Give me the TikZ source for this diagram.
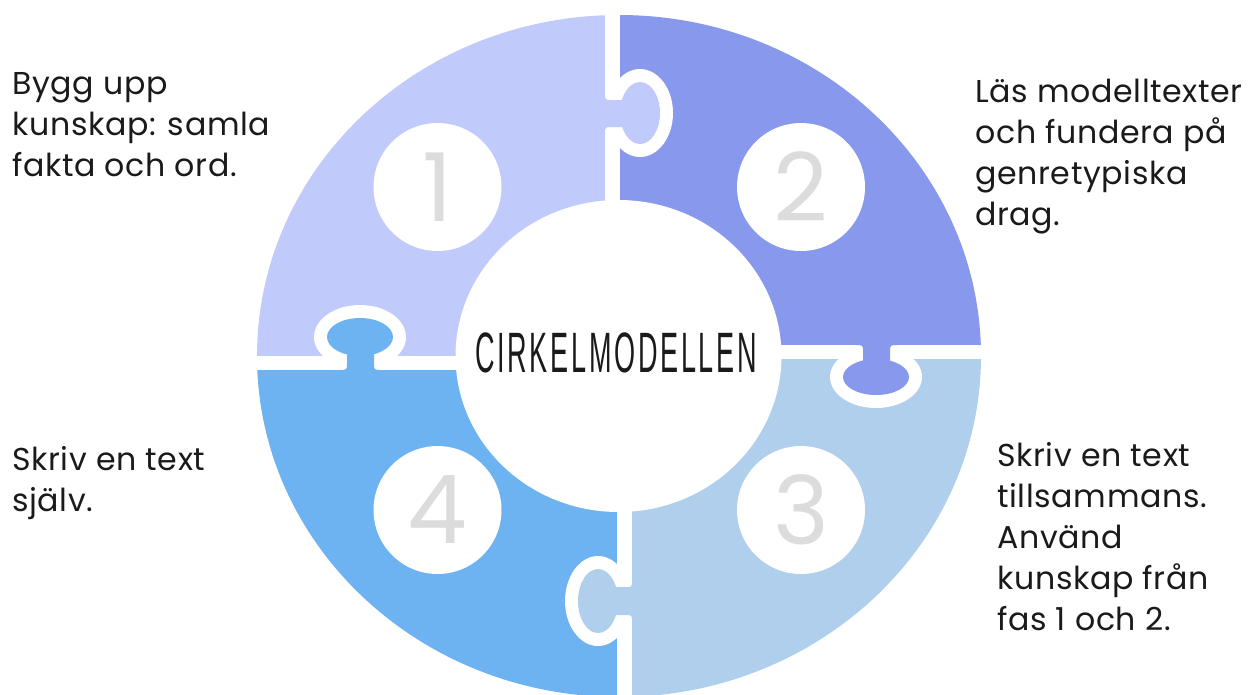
\documentclass[tikz,border=0pt]{standalone}
\usepackage{fontspec}
\usepackage{graphicx}
\setmainfont{Poppins}[LetterSpace=2]
\newfontfamily\titlefont{Liberation Sans}[LetterSpace=10]
\usetikzlibrary{positioning}
\definecolor{pieceone}{RGB}{193,203,251}
\definecolor{piecetwo}{RGB}{136,152,236}
\definecolor{piecethree}{RGB}{176,207,236}
\definecolor{piecefour}{RGB}{109,179,242}
\definecolor{digitgray}{RGB}{220,220,220}
\definecolor{textblack}{RGB}{26,26,26}

\begin{document}
\begin{tikzpicture}[
    x=0.02cm, y=-0.02cm,
    numcircle/.style={
        circle, fill=white, minimum size=2.56cm, inner sep=0pt,
        font=\fontsize{54}{54}\selectfont, text=digitgray
    },
    phase/.style={
        anchor=north west, align=left, inner sep=0pt,
        font=\fontsize{18}{23.3}\selectfont, text=textblack
    }
]
\useasboundingbox (0,0) rectangle (1256,694);

% Ring pieces (y=0 at top)
\begin{scope}
  \clip (619,356) ellipse [x radius=362, y radius=341];
  \fill[pieceone]   (250,0)   rectangle (605,356);
  \fill[piecetwo]   (620,0)   rectangle (990,345);
  \fill[piecethree] (632,359) rectangle (990,700);
  \fill[piecefour]  (250,370) rectangle (617,700);

  % White room round the knobs
  \fill[white] (640,113) ellipse [x radius=33, y radius=44];
  \fill[white] (876,377) ellipse [x radius=46, y radius=31];
  \fill[white] (598,601) ellipse [x radius=33, y radius=45];
  \fill[white] (360,337) ellipse [x radius=46, y radius=32];

  % Knobs: head and neck
  \fill[pieceone] (640,113) ellipse [x radius=20, y radius=31];
  \fill[pieceone] (598,93) -- (605,93) .. controls (605,100) .. (612,100)
      -- (630,100) -- (630,127) -- (612,127) .. controls (605,127) .. (605,134)
      -- (598,134) -- cycle;
  \fill[piecetwo] (876,377) ellipse [x radius=33, y radius=18];
  \fill[piecetwo] (855,338) -- (855,345) .. controls (863,345) .. (863,352)
      -- (863,365) -- (890,365) -- (890,352) .. controls (890,345) .. (898,345)
      -- (898,338) -- cycle;
  \fill[piecethree] (598,601) ellipse [x radius=20, y radius=32];
  \fill[piecethree] (640,580) -- (632,580) .. controls (632,587) .. (625,587)
      -- (608,587) -- (608,615) -- (625,615) .. controls (632,615) .. (632,622)
      -- (640,622) -- cycle;
  \fill[piecefour] (360,337) ellipse [x radius=33, y radius=19];
  \fill[piecefour] (339,378) -- (339,370) .. controls (347,370) .. (347,363)
      -- (347,350) -- (374,350) -- (374,363) .. controls (374,370) .. (382,370)
      -- (382,378) -- cycle;
\end{scope}

% Centre
\fill[white] (618.5,356) ellipse [x radius=163, y radius=156];
\node[font=\titlefont\fontsize{32.4}{32.4}\selectfont, text=textblack] (title)
    at (616,352.5) {\scalebox{0.475}[1]{CIRKELMODELLEN}};

% Phase numbers
\node[numcircle] (one)   at (437.5,187) {1};
\node[numcircle] (two)   at (801,187)   {2};
\node[numcircle] (three) at (801,510)   {3};
\node[numcircle] (four)  at (437.5,510) {4};

% Phase texts
\node[phase] (textone)   at (12,72)   {Bygg upp\\kunskap: samla\\fakta och ord.};
\node[phase] (texttwo)   at (975,79)  {Läs modelltexter\\och fundera på\\genretypiska\\drag.};
\node[phase] (textthree) at (997,442) {Skriv en text\\tillsammans.\\Använd\\kunskap från\\fas 1 och 2.};
\node[phase] (textfour)  at (12,446)  {Skriv en text\\själv.};

\end{tikzpicture}
\end{document}
